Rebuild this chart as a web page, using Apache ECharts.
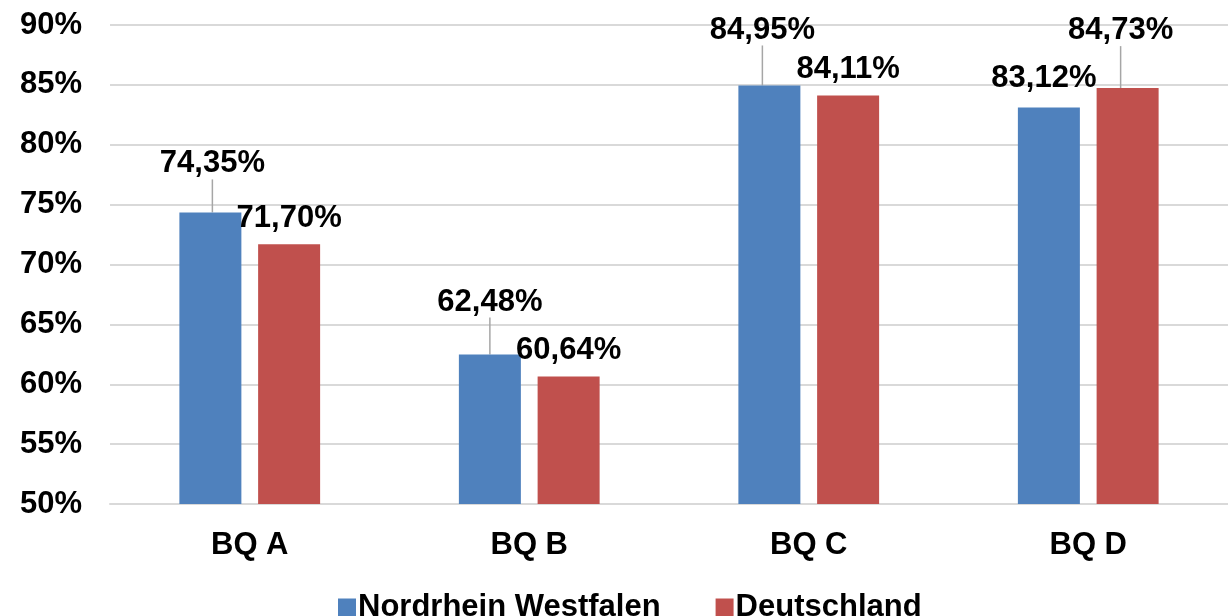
<!DOCTYPE html>
<html>
<head>
<meta charset="utf-8">
<script src="https://cdn.jsdelivr.net/npm/echarts@6/dist/echarts.min.js"></script>
<style>
    html, body { margin: 0; padding: 0; background: #fff; }
    #chart { width: 1228px; height: 616px; }
</style>
</head>
<body>
<div id="chart"></div>
<script>
const categories = ['BQ A', 'BQ B', 'BQ C', 'BQ D']
const seriesNames = ['Nordrhein Westfalen', 'Deutschland']
const nrwValues = [74.35, 62.48, 84.95, 83.12]
const deValues = [71.70, 60.64, 84.11, 84.73]

// label shifts (dx, dy) in px per series / category, Excel style with leader lines
const labelShift = [
    [[2, -28], [0, -32], [-7, -35], [-5, -8]],
    [[0, -5], [0, -6], [0, -6], [-7, -37]]
]
const colors = ['#4f81bd', '#c0504d']
const font = 'Liberation Sans, Arial, sans-serif'

function fmt(v) {
    return v.toFixed(2).replace('.', ',') + '%'
}

function buildData(values, s) {
    return values.map((v, i) => ({
        value: v,
        labelLine: { show: Math.abs(labelShift[s][i][1]) > 20 }
    }))
}

const chart = echarts.init(document.getElementById('chart'))
chart.setOption({
    animation: false,
    textStyle: { fontFamily: font },
    grid: { left: 110, right: 0, top: 25, bottom: 112 },
    legend: {
        left: 333,
        top: 587,
        itemWidth: 18,
        itemHeight: 18,
        itemGap: 55,
        icon: 'rect',
        data: seriesNames,
        textStyle: { fontSize: 31, fontWeight: 'bold', color: '#000', fontFamily: font, padding: [0, 0, 0, -3] }
    },
    xAxis: {
        type: 'category',
        data: categories,
        axisTick: { show: false },
        axisLine: { lineStyle: { color: '#d9d9d9', width: 2 } },
        axisLabel: { margin: 26, fontSize: 31, fontWeight: 'bold', color: '#000' }
    },
    yAxis: {
        type: 'value',
        min: 50,
        max: 90,
        interval: 5,
        axisLine: { show: false },
        axisTick: { show: false },
        splitLine: { lineStyle: { color: '#d9d9d9', width: 2 } },
        axisLabel: {
            margin: 28,
            fontSize: 31,
            fontWeight: 'bold',
            color: '#000',
            formatter: v => v + '%'
        }
    },
    series: [nrwValues, deValues].map((vals, s) => ({
        name: seriesNames[s],
        type: 'bar',
        barWidth: 62,
        barGap: '27%',
        itemStyle: { color: colors[s] },
        data: buildData(vals, s),
        label: {
            show: true,
            position: 'top',
            distance: 5,
            fontSize: 31,
            fontWeight: 'bold',
            color: '#000',
            formatter: p => fmt(p.value)
        },
        labelLine: { show: false, lineStyle: { color: '#a6a6a6', width: 1.5 } },
        labelLayout: p => ({ dx: labelShift[s][p.dataIndex][0], dy: labelShift[s][p.dataIndex][1] })
    }))
})
</script>
</body>
</html>
